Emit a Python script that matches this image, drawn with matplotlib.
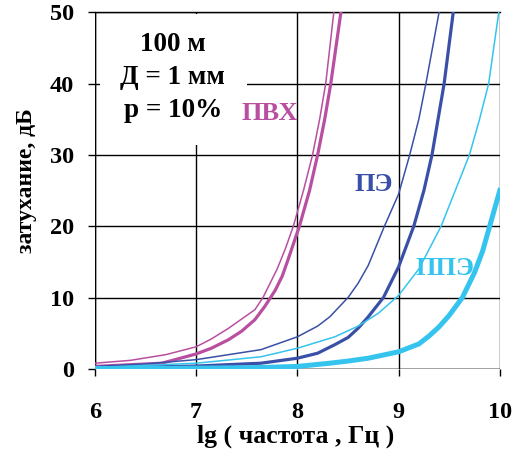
import numpy as np
import matplotlib.pyplot as plt
from matplotlib.patches import Rectangle

plt.rcParams['font.family'] = ['Liberation Serif', 'DejaVu Serif']
plt.rcParams['font.weight'] = 'bold'

# затухание (дБ) vs lg(частота)
pvc_thin_x = [6.0, 6.35, 6.7, 7.0, 7.15, 7.32, 7.45, 7.58, 7.66, 7.8, 7.88, 7.96, 8.06, 8.15, 8.22, 8.28, 8.36]
pvc_thin_y = [0.8, 1.2, 2.0, 3.1, 4.2, 5.7, 7.0, 8.3, 10.0, 14.0, 16.8, 20.0, 25.0, 30.0, 35.0, 40.0, 50.0]

pvc_thick_x = [6.0, 6.66, 7.0, 7.15, 7.32, 7.45, 7.58, 7.68, 7.78, 7.85, 7.9, 8.02, 8.12, 8.20, 8.27, 8.33, 8.43]
pvc_thick_y = [0.35, 0.8, 2.1, 2.9, 4.1, 5.3, 6.9, 8.8, 11.0, 13.0, 15.0, 20.0, 25.0, 30.0, 35.0, 40.0, 50.0]

pe_thin_x = [6.0, 6.5, 7.0, 7.64, 8.0, 8.2, 8.32, 8.5, 8.6, 8.7, 8.86, 9.0, 9.11, 9.2, 9.27, 9.4]
pe_thin_y = [0.35, 0.7, 1.3, 2.7, 4.5, 6.0, 7.3, 10.0, 12.0, 14.5, 20.0, 24.5, 30.0, 35.0, 40.0, 50.0]

pe_thick_x = [6.0, 7.0, 7.64, 8.0, 8.2, 8.37, 8.5, 8.6, 8.7, 8.85, 9.0, 9.15, 9.25, 9.33, 9.45, 9.54]
pe_thick_y = [0.15, 0.4, 0.8, 1.5, 2.2, 3.4, 4.4, 5.7, 7.3, 10.0, 14.3, 20.0, 25.0, 30.0, 40.0, 50.0]

ppe_thin_x = [6.0, 7.0, 7.64, 8.0, 8.37, 8.6, 8.8, 9.0, 9.2, 9.42, 9.56, 9.70, 9.8, 9.89, 9.99]
ppe_thin_y = [0.2, 0.8, 1.7, 2.9, 4.5, 6.0, 7.8, 10.3, 14.0, 20.0, 25.0, 30.0, 35.0, 40.0, 50.0]

ppe_thick_x = [6.0, 7.0, 7.64, 8.0, 8.32, 8.5, 8.7, 9.0, 9.2, 9.3, 9.4, 9.5, 9.63, 9.75, 9.83, 9.9, 10.0]
ppe_thick_y = [0.05, 0.1, 0.2, 0.35, 0.8, 1.1, 1.5, 2.4, 3.5, 4.6, 5.9, 7.5, 10.0, 13.5, 16.5, 20.0, 25.0]

xticks = [6, 7, 8, 9, 10]
yticks = [0, 10, 20, 30, 40, 50]

c_pvc = '#B94FA0'
c_pe = '#3A50A8'
c_ppe = '#35C4EE'

fig = plt.figure(figsize=(5.19, 4.51), dpi=100)
ax = fig.add_axes([0.183, 0.182, 0.780, 0.791])

ax.plot(pvc_thin_x, pvc_thin_y, color=c_pvc, lw=1.1, zorder=3)
ax.plot(pvc_thick_x, pvc_thick_y, color=c_pvc, lw=2.3, zorder=3)
ax.plot(pe_thin_x, pe_thin_y, color=c_pe, lw=1.1, zorder=3)
ax.plot(pe_thick_x, pe_thick_y, color=c_pe, lw=2.3, zorder=3)
ax.plot(ppe_thin_x, ppe_thin_y, color=c_ppe, lw=1.1, zorder=3)
ax.plot(ppe_thick_x, ppe_thick_y, color=c_ppe, lw=3.6, zorder=3)

ax.set_xlim(6, 10)
ax.set_ylim(0, 50)
ax.set_xticks(xticks)
ax.set_yticks(yticks)
ax.grid(True, color='black', lw=1.0, zorder=0)
ax.set_axisbelow(True)
for s in ax.spines.values():
    s.set_visible(False)
ax.axvline(6, color='black', lw=1.0, zorder=2)
ax.axhline(0, color='black', lw=1.0, zorder=2)
ax.axhline(50, color='black', lw=1.0, zorder=2, clip_on=False)

# white box behind the caption
ax.add_patch(Rectangle((6.05, 31.4), 1.45, 18.4, facecolor='white', edgecolor='none', zorder=1))
ax.text(6.77, 40.9, '100 м\nД = 1 мм\nр = 10%', ha='center', va='center',
        fontsize=19.5, fontweight='bold', linespacing=1.42, zorder=4)

ax.text(7.73, 35.8, 'ПВХ', color=c_pvc, fontsize=19, fontweight='bold', ha='center', va='center', zorder=4)
ax.text(8.75, 25.8, 'ПЭ', color=c_pe, fontsize=19, fontweight='bold', ha='center', va='center', zorder=4)
ax.text(9.46, 14.1, 'ППЭ', color=c_ppe, fontsize=19, fontweight='bold', ha='center', va='center', zorder=4)

ax.tick_params(axis='both', direction='out', length=5, width=1, labelsize=17.5)
ax.tick_params(axis='x', pad=19)
ax.tick_params(axis='y', pad=10)
for lab in ax.get_xticklabels() + ax.get_yticklabels():
    lab.set_fontweight('bold')

ax.set_xlabel('lg ( частота , Гц )', fontsize=18.5, fontweight='bold')
ax.set_ylabel('затухание, дБ', fontsize=17, fontweight='bold')
ax.xaxis.set_label_coords(0.496, -0.155)
ax.yaxis.set_label_coords(-0.143, 0.527)

fig.savefig('out.png', dpi=100)
